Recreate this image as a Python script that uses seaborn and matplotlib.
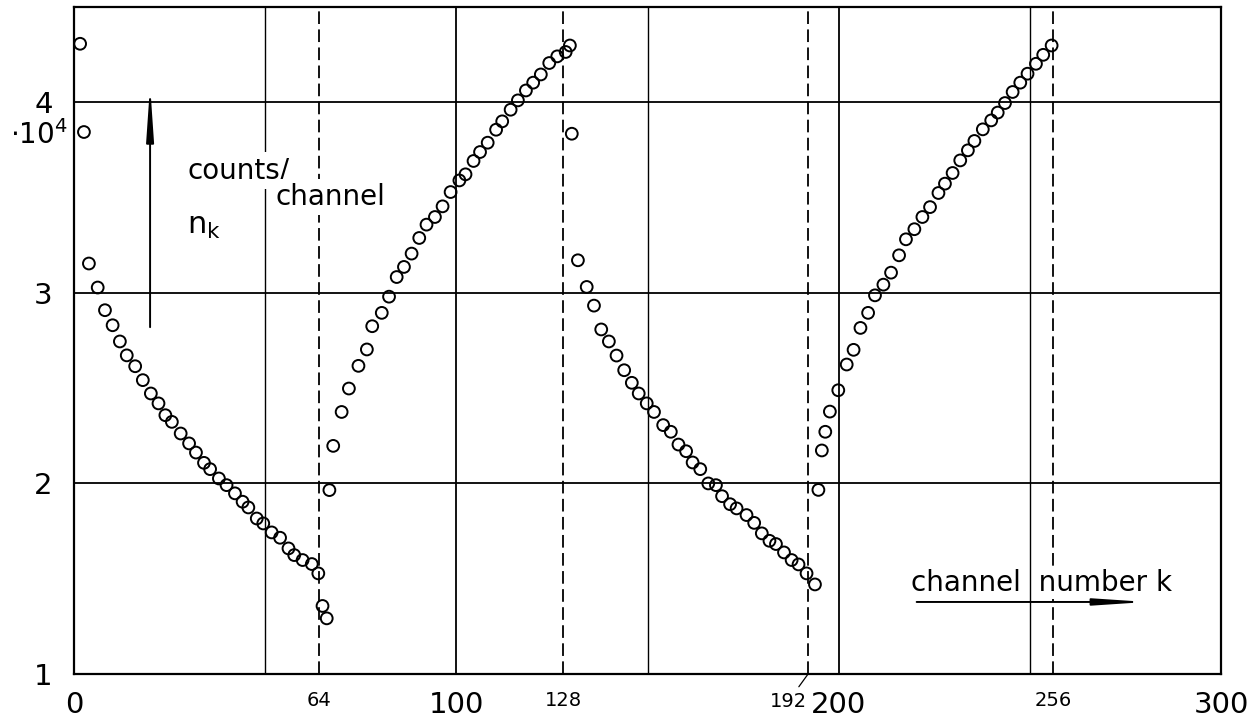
import numpy as np
import pandas as pd
import matplotlib
matplotlib.use("Agg")
import matplotlib.pyplot as plt
import seaborn as sns

# ---- data (counts in units of 10^4) ----
seg1_k = [1.6, 2.6, 3.9, 6.2, 8.1, 10.1, 12.0, 13.8, 16.0, 18.0, 20.1, 22.1, 23.9, 25.6, 27.9,
          30.1, 31.9, 34.0, 35.6, 37.9, 39.9, 42.1, 44.1, 45.6, 47.8, 49.5, 51.7, 53.9, 56.1,
          57.6, 59.8, 62.2, 63.9, 65.0, 66.1]
seg1_n = [4.307, 3.844, 3.154, 3.028, 2.909, 2.830, 2.745, 2.672, 2.615, 2.542, 2.472, 2.420,
          2.358, 2.323, 2.262, 2.210, 2.162, 2.108, 2.075, 2.026, 1.991, 1.948, 1.904, 1.874,
          1.816, 1.790, 1.743, 1.715, 1.659, 1.624, 1.598, 1.577, 1.528, 1.357, 1.292]

seg2_k = [66.8, 67.8, 70.0, 71.9, 74.4, 76.6, 78.0, 80.5, 82.4, 84.4, 86.3, 88.3, 90.3, 92.2,
          94.4, 96.4, 98.5, 100.8, 102.4, 104.5, 106.2, 108.2, 110.4, 112.0, 114.2, 116.1,
          118.2, 120.1, 122.1, 124.3, 126.4, 128.6, 129.7]
seg2_n = [1.965, 2.197, 2.375, 2.498, 2.617, 2.703, 2.825, 2.895, 2.980, 3.083, 3.136, 3.206,
          3.288, 3.358, 3.398, 3.454, 3.529, 3.590, 3.622, 3.692, 3.739, 3.788, 3.856, 3.900,
          3.961, 4.010, 4.062, 4.103, 4.146, 4.206, 4.241, 4.264, 4.298]

seg3_k = [130.2, 131.8, 134.1, 136.0, 137.9, 139.9, 141.9, 143.9, 145.9, 147.7, 149.8, 151.7,
          154.1, 156.1, 158.1, 160.1, 161.8, 163.8, 165.9, 167.9, 169.5, 171.6, 173.3, 175.9,
          177.9, 179.9, 181.9, 183.6, 185.7, 187.7, 189.5, 191.6, 193.8]
seg3_n = [3.835, 3.171, 3.031, 2.933, 2.808, 2.745, 2.671, 2.594, 2.528, 2.472, 2.420, 2.375,
          2.306, 2.271, 2.204, 2.169, 2.110, 2.075, 2.000, 1.991, 1.933, 1.891, 1.869, 1.834,
          1.793, 1.738, 1.699, 1.682, 1.638, 1.598, 1.575, 1.528, 1.470]

seg4_k = [194.7, 195.6, 196.5, 197.7, 199.9, 202.1, 203.9, 205.7, 207.7, 209.5, 211.7, 213.7,
          215.8, 217.6, 219.8, 221.9, 223.9, 226.1, 227.8, 229.8, 231.8, 233.8, 235.5, 237.7,
          239.9, 241.6, 243.5, 245.5, 247.5, 249.4, 251.6, 253.5, 255.7]
seg4_n = [1.966, 2.173, 2.271, 2.377, 2.489, 2.624, 2.701, 2.816, 2.895, 2.987, 3.043, 3.106,
          3.197, 3.281, 3.334, 3.398, 3.450, 3.524, 3.573, 3.629, 3.695, 3.748, 3.797, 3.858,
          3.905, 3.946, 3.996, 4.054, 4.103, 4.150, 4.202, 4.249, 4.298]

big_xticks = [0, 100, 200, 300]
small_xticks = [64, 128, 256]
offset_xtick = 192
yticks = [1, 2, 3, 4]
solid_grid_x = [50, 100, 150, 200, 250]
dashed_grid_x = [64, 128, 192, 256]
grid_y = [2, 3, 4]

df = pd.DataFrame({
    "channel": seg1_k + seg2_k + seg3_k + seg4_k,
    "counts": seg1_n + seg2_n + seg3_n + seg4_n,
})

# ---- style ----
sns.set_style("white")
plt.rcParams["font.family"] = ["DejaVu Sans"]
plt.rcParams["text.color"] = "black"
plt.rcParams["xtick.color"] = "black"
plt.rcParams["ytick.color"] = "black"
plt.rcParams["axes.labelcolor"] = "black"

fig = plt.figure(figsize=(12.59, 7.22), dpi=100)
ax = fig.add_axes([74 / 1259, 1 - 674 / 722, (1221 - 74) / 1259, (674 - 7) / 722])

# grid / reference lines
for x in solid_grid_x:
    ax.axvline(x, color="black", lw=1.0 if x % 100 else 1.3, zorder=3.5)
for x in dashed_grid_x:
    ax.axvline(x, color="black", lw=1.3, ls=(0, (7, 3)), zorder=1)
for y in grid_y:
    ax.axhline(y, color="black", lw=1.3, zorder=1)

sns.scatterplot(data=df, x="channel", y="counts", ax=ax, marker="o", s=72,
                facecolors="none", edgecolor="black", linewidth=1.4, zorder=4)

ax.set_xlim(0, 300)
ax.set_ylim(1, 4.5)
ax.set_xlabel("")
ax.set_ylabel("")

for s in ax.spines.values():
    s.set_color("black")
    s.set_linewidth(1.6)

# x ticks
xt = big_xticks + small_xticks
ax.set_xticks(xt)
ax.set_xticklabels([str(v) for v in xt])
for lab, v in zip(ax.get_xticklabels(), xt):
    lab.set_fontsize(21 if v in big_xticks else 14)
ax.tick_params(axis="x", length=0, pad=12)
ax.annotate(str(offset_xtick), xy=(offset_xtick, 1), xycoords="data",
            xytext=(-14.5, -20), textcoords="offset points", ha="center", va="center",
            fontsize=14, annotation_clip=False,
            arrowprops=dict(arrowstyle="-", color="black", lw=0.9, shrinkA=2, shrinkB=0))

# y ticks
ax.set_yticks(yticks)
ax.set_yticklabels([str(v) for v in yticks], fontsize=21)
ax.tick_params(axis="y", length=0, pad=22)
for lab in ax.get_yticklabels():
    lab.set_horizontalalignment("center")
ax.text(-0.031, 3.83, r"$\cdot\mathregular{10^4}$", transform=ax.get_yaxis_transform(),
        ha="center", va="center", fontsize=20)

# annotations
tb = dict(facecolor="white", edgecolor="none", pad=3)
ax.text(29.6, 3.60, "counts/", fontsize=20, ha="left", va="baseline", zorder=5, bbox=tb)
ax.text(52.6, 3.46, "channel", fontsize=20, ha="left", va="baseline", zorder=5, bbox=tb)
ax.text(29.6, 3.31, r"$\mathregular{n_k}$", fontsize=22, ha="left", va="baseline", zorder=5)

ax.annotate("", xy=(19.9, 4.09), xytext=(19.9, 2.82),
            arrowprops=dict(arrowstyle="-|>,head_length=3.2,head_width=0.22",
                            color="black", lw=1.4, shrinkA=0, shrinkB=0), zorder=3)

ax.text(253.0, 1.475, "channel  number k", fontsize=20, ha="center", va="center",
        zorder=3, bbox=dict(facecolor="white", edgecolor="none", pad=1))
ax.annotate("", xy=(280.6, 1.378), xytext=(220.4, 1.378),
            arrowprops=dict(arrowstyle="-|>,head_length=3.0,head_width=0.2",
                            color="black", lw=1.4, shrinkA=0, shrinkB=0), zorder=3)

fig.savefig("out.png", dpi=100)
